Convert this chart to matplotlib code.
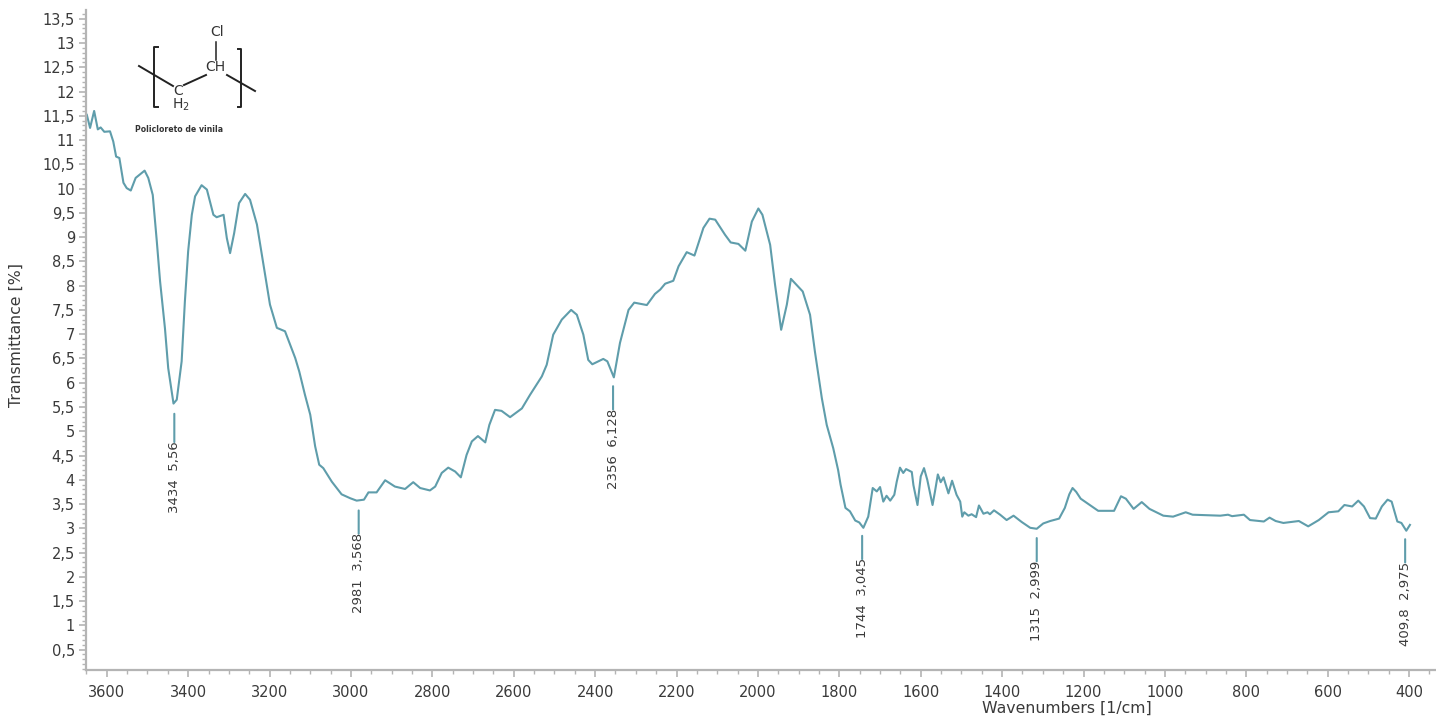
import matplotlib
matplotlib.use('Agg')
import matplotlib.pyplot as plt
from matplotlib.ticker import MultipleLocator, FuncFormatter

# spectrum
wavenumber = [3649, 3641, 3631, 3622, 3615, 3606, 3592, 3584, 3577, 3569, 3559, 3551, 3541, 3529, 3507, 3498, 3487, 3477, 3469,
              3457, 3449, 3436, 3428, 3416, 3408, 3400, 3391, 3383, 3367, 3354, 3338, 3330, 3313, 3305, 3297, 3287, 3275, 3260,
              3248, 3231, 3215, 3199, 3182, 3162, 3137, 3127, 3113, 3100, 3088, 3078, 3068, 3047, 3023, 3002, 2986, 2968, 2957,
              2937, 2916, 2892, 2867, 2847, 2830, 2806, 2793, 2777, 2761, 2744, 2730, 2716, 2703, 2688, 2670, 2660, 2646, 2630,
              2609, 2580, 2560, 2531, 2519, 2503, 2482, 2459, 2445, 2429, 2417, 2407, 2380, 2370, 2354, 2339, 2318, 2304, 2273,
              2253, 2240, 2228, 2208, 2195, 2175, 2156, 2134, 2119, 2105, 2081, 2067, 2048, 2031, 2015, 1999, 1989, 1970, 1958,
              1943, 1929, 1919, 1909, 1890, 1872, 1860, 1843, 1831, 1815, 1803, 1797, 1785, 1774, 1761, 1751, 1741, 1729, 1718,
              1708, 1700, 1692, 1684, 1675, 1665, 1659, 1651, 1643, 1636, 1622, 1618, 1608, 1600, 1592, 1584, 1571, 1565, 1558,
              1551, 1544, 1532, 1523, 1512, 1503, 1498, 1493, 1483, 1475, 1464, 1457, 1446, 1436, 1430, 1420, 1405, 1389, 1372,
              1352, 1331, 1315, 1299, 1282, 1260, 1246, 1235, 1227, 1218, 1207, 1164, 1125, 1108, 1096, 1077, 1057, 1038, 1004,
              980, 949, 932, 864, 845, 835, 806, 791, 757, 743, 728, 709, 671, 648, 622, 598, 574, 559, 540, 525, 511, 496, 482,
              467, 453, 443, 429, 419, 407, 398]
transmittance = [11.52, 11.25, 11.6, 11.22, 11.26, 11.17, 11.18, 10.97, 10.66, 10.63, 10.12, 10.01, 9.96, 10.22, 10.37, 10.22, 9.87, 8.91, 8.09,
                 7.12, 6.3, 5.57, 5.65, 6.44, 7.68, 8.71, 9.46, 9.84, 10.07, 9.98, 9.46, 9.41, 9.46, 8.98, 8.67, 9.08, 9.7, 9.89,
                 9.77, 9.26, 8.43, 7.61, 7.13, 7.06, 6.51, 6.23, 5.75, 5.34, 4.69, 4.31, 4.24, 3.96, 3.7, 3.62, 3.57, 3.59, 3.74,
                 3.74, 3.99, 3.86, 3.81, 3.95, 3.83, 3.78, 3.86, 4.14, 4.25, 4.17, 4.05, 4.51, 4.79, 4.9, 4.77, 5.13, 5.44, 5.42,
                 5.29, 5.47, 5.75, 6.13, 6.37, 6.99, 7.3, 7.5, 7.4, 6.99, 6.47, 6.38, 6.49, 6.44, 6.11, 6.82, 7.5, 7.65, 7.6,
                 7.83, 7.92, 8.04, 8.1, 8.4, 8.69, 8.62, 9.19, 9.38, 9.36, 9.05, 8.89, 8.86, 8.72, 9.32, 9.59, 9.46, 8.84, 8.02,
                 7.09, 7.61, 8.14, 8.05, 7.88, 7.4, 6.64, 5.68, 5.13, 4.65, 4.2, 3.9, 3.42, 3.35, 3.16, 3.12, 3.01, 3.24, 3.83,
                 3.76, 3.85, 3.55, 3.67, 3.57, 3.69, 3.96, 4.25, 4.14, 4.22, 4.16, 3.89, 3.48, 4.07, 4.24, 4.0, 3.48, 3.76, 4.11,
                 3.95, 4.05, 3.72, 3.98, 3.69, 3.55, 3.24, 3.33, 3.26, 3.29, 3.23, 3.47, 3.3, 3.33, 3.29, 3.37, 3.28, 3.17, 3.26,
                 3.13, 3.01, 2.99, 3.1, 3.15, 3.2, 3.42, 3.7, 3.83, 3.75, 3.61, 3.36, 3.36, 3.66, 3.61, 3.4, 3.54, 3.4, 3.26,
                 3.24, 3.33, 3.28, 3.26, 3.28, 3.25, 3.28, 3.17, 3.14, 3.22, 3.15, 3.11, 3.15, 3.04, 3.17, 3.33, 3.35, 3.48, 3.45, 3.57, 3.45, 3.21, 3.2,
                 3.45, 3.59, 3.55, 3.14, 3.11, 2.95, 3.07]

# labelled peaks
peak_x = [3434, 2981, 2356, 1744, 1315, 409.8]
peak_y = [5.56, 3.568, 6.128, 3.045, 2.999, 2.975]
peak_labels = ['3434  5,56', '2981  3,568', '2356  6,128', '1744  3,045', '1315  2,999', '409,8  2,975']

line_color = '#5f9dab'
gray = '#b4b4b4'
text_color = '#3a3a3a'

W, H = 1436, 717
fig = plt.figure(figsize=(W / 100, H / 100), dpi=100)
ax = fig.add_axes([86 / W, 1 - 670 / H, (W - 86) / W, 660 / H])

ax.plot(wavenumber, transmittance, color=line_color, lw=1.5, solid_joinstyle='round')

ax.set_xlim(3651, 334)
ax.set_ylim(0.08, 13.68)

for s in ['top', 'right']:
    ax.spines[s].set_visible(False)
for s in ['left', 'bottom']:
    ax.spines[s].set_color(gray)
    ax.spines[s].set_linewidth(1.6)

ax.xaxis.set_major_locator(MultipleLocator(200))
ax.xaxis.set_minor_locator(MultipleLocator(50))
ax.yaxis.set_major_locator(MultipleLocator(0.5))
ax.yaxis.set_minor_locator(MultipleLocator(0.1))
ax.yaxis.set_major_formatter(FuncFormatter(lambda v, p: f'{v:g}'.replace('.', ',')))
ax.tick_params(which='major', length=5, width=1.2, color=gray, labelsize=10.5, labelcolor=text_color, pad=3)
ax.tick_params(which='minor', length=3, width=1.0, color=gray)
ax.tick_params(axis='x', which='major', pad=6)

fig.text(16 / W, 1 - 335 / H, 'Transmittance [%]', rotation=90, ha='center', va='center',
         fontsize=11.3, color=text_color)
fig.text(1067 / W, 1 - 708 / H, 'Wavenumbers [1/cm]', ha='center', va='center',
         fontsize=11.3, color=text_color)

# peak markers: stem under the curve with the label rotated beneath it
for x, y, lab in zip(peak_x, peak_y, peak_labels):
    drop = 38 if x == 3434 else 33   # first stem is longer in the original
    ax.annotate('', xy=(x, y), xytext=(0, -drop), textcoords='offset pixels',
                xycoords='data', arrowprops=dict(arrowstyle='-', color=line_color, lw=1.5, shrinkA=0, shrinkB=7))
    ax.annotate(lab, xy=(x, y), xytext=(0, -drop + 1), textcoords='offset pixels', rotation=90,
                ha='center', va='top', fontsize=9.5, color=text_color)

# polymer sketch, in pixels of the figure
def P(x, y):
    return x / W, 1 - y / H

def seg(pts, lw=1.4):
    xs = [P(*q)[0] for q in pts]
    ys = [P(*q)[1] for q in pts]
    fig.add_artist(plt.Line2D(xs, ys, color='#222222', lw=lw, transform=fig.transFigure))

seg([(158, 47), (154, 47), (154, 107), (158, 107)])
seg([(238, 49), (241, 49), (241, 107), (238, 107)])
seg([(139, 66), (173, 86)])
seg([(184, 85), (206, 75)])
seg([(227, 75), (255, 91)])
seg([(216, 42), (216, 60)], lw=1.1)
for x, y, s, fs in [(217, 32, 'Cl', 10), (215, 67, 'CH', 10), (178, 91, 'C', 10), (181, 105, 'H$_2$', 10)]:
    fig.text(*P(x, y), s, ha='center', va='center', fontsize=fs, color='#333333')
fig.text(*P(179, 129), 'Policloreto de vinila', ha='center', va='center', fontsize=5.6,
         fontweight='bold', color='#333333')

fig.savefig('out.png', dpi=100)
